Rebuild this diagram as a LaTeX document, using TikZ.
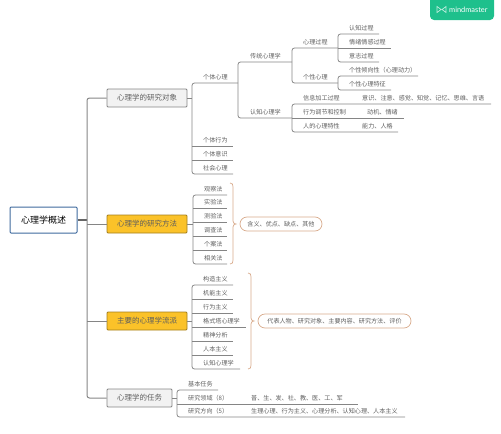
\documentclass[tikz,border=0pt]{standalone}
\usepackage{fontspec}
\setmainfont{Noto Sans CJK SC}
\newfontfamily\logofont{Lato}
\definecolor{txt}{HTML}{5E5E5E}
\definecolor{lin}{HTML}{858585}
\definecolor{brc}{HTML}{D8AB8C}
\definecolor{yel}{HTML}{FBC229}
\definecolor{logog}{HTML}{1EC08C}
\definecolor{rootb}{HTML}{3F6A9E}
\newcommand{\Lf}[6]{%name,x0,x1,y,textx,text
  \coordinate (#1-l) at (#2,#4);
  \coordinate (#1-r) at (#3,#4);
  \node[leaf,anchor=west] (#1) at (#5,#4-5.5) {#6};}
\newcommand{\Ul}[1]{\draw[conn] (#1-l) -- (#1-r);}
\newcommand{\Br}[2]{\draw[conn,rounded corners=2.5] (#1-r) -- (#1-l) -- (#2-l) -- (#2-r);}
\newcommand{\Cb}[4]{%x,top,bottom,tipy
  \draw[brc,line width=.7]
   (#1,#2) .. controls (#1+2.5,#2) and (#1+3,#2+1.5) .. (#1+3,#2+4)
   -- (#1+3,#4-3) .. controls (#1+3,#4-1) and (#1+4.5,#4) .. (#1+6,#4)
   .. controls (#1+4.5,#4) and (#1+3,#4+1) .. (#1+3,#4+3)
   -- (#1+3,#3-4) .. controls (#1+3,#3-1.5) and (#1+2.5,#3) .. (#1,#3);}
\tikzset{
  leaf/.style={inner sep=0pt,text=txt,font=\fontsize{6.1}{7}\selectfont},
  conn/.style={draw=lin,line width=.8},
  topbox/.style={draw=lin,line width=.9,rounded corners=1,inner sep=0pt,text=txt,minimum height=18,font=\fontsize{7.5}{9}\selectfont},
  graybox/.style={topbox,fill=black!5},
  yelbox/.style={topbox,fill=yel,draw=black!35!yel},
  capsule/.style={draw=brc,line width=.7,rounded corners=7,minimum height=14,inner sep=0pt,text=txt,font=\fontsize{6.1}{7}\selectfont}
}
\begin{document}
\begin{tikzpicture}[x=1pt,y=-1pt]
\useasboundingbox (0,0) rectangle (501,434);
% logo
\fill[logog,rounded corners=4] (430,-6) rectangle (494,20);
\node[inner sep=0pt,text=white,anchor=west,font=\logofont\fontsize{7.4}{8}\selectfont] (logo) at (449,9.5) {mindmaster};
\draw[white!70!logog,line width=.7] (437,6.5) -- (441,9.5) -- (437,12.5) -- cycle (446,6.5) -- (442,9.5) -- (446,12.5) -- cycle;
% root and first level
\node[draw=rootb,line width=1,rounded corners=1,fill=white,minimum width=67,minimum height=26,inner sep=0pt,font=\fontsize{9}{11}\selectfont] (root) at (43.5,220) {心理学概述};
\node[graybox,minimum width=80] (a) at (147,98) {心理学的研究对象};
\node[yelbox,minimum width=80] (b) at (147,224) {心理学的研究方法};
\node[yelbox,minimum width=80] (c) at (147,321) {主要的心理学流派};
\node[graybox,minimum width=65] (d) at (139.5,398) {心理学的任务};
\coordinate (tr) at (87,220);
\draw[conn,line width=1.1,draw=black!60] (root.east) -- (tr);
\draw[conn,line width=1,rounded corners=2.5] (a.west) -| (tr) |- (d.west);
\draw[conn] (b.west) -- (b.west -| tr);
\draw[conn] (c.west) -- (c.west -| tr);
% subject branch
\Lf{a1}{192}{238}{83}{203}{个体心理}
\Lf{a2}{192}{233}{146}{203}{个体行为}
\Lf{a3}{192}{233}{160}{203}{个体意识}
\Lf{a4}{192}{233}{174}{203}{社会心理}
\Br{a1}{a4}\Ul{a2}\Ul{a3}
\draw[conn] (a.east) -- (a.east -| a1-l);
\Lf{t1}{238}{292}{62}{250}{传统心理学}
\Lf{t2}{238}{292}{118}{250}{认知心理学}
\Br{t1}{t2}
\Lf{p1}{292}{338}{48}{303}{心理过程}
\Lf{p2}{292}{338}{83}{303}{个性心理}
\Br{p1}{p2}
\Lf{q1}{338}{379}{34}{349}{认知过程}
\Lf{q2}{338}{391}{48}{349}{情绪情感过程}
\Lf{q3}{338}{379}{62}{349}{意志过程}
\Br{q1}{q3}\Ul{q2}
\Lf{r1}{338}{418}{76}{349}{个性倾向性（心理动力）}
\Lf{r2}{338}{391}{90}{349}{个性心理特征}
\Br{r1}{r2}
\Lf{s1}{292}{491}{104}{303}{信息加工过程}
\Lf{s2}{292}{404}{118}{303}{行为调节和控制}
\Lf{s3}{292}{398}{132}{303}{人的心理特性}
\Br{s1}{s3}\Ul{s2}
\node[leaf,anchor=west] (s1t) at (362,98.5) {意识、注意、感觉、知觉、记忆、思维、言语};
\node[leaf,anchor=west] (s2t) at (367,112.5) {动机、情绪};
\node[leaf,anchor=west] (s3t) at (362,126.5) {能力、人格};
% method branch
\Lf{m1}{193}{227}{195}{204}{观察法}
\Lf{m2}{193}{227}{208}{204}{实验法}
\Lf{m3}{193}{227}{222}{204}{测验法}
\Lf{m4}{193}{227}{236}{204}{调查法}
\Lf{m5}{193}{227}{250}{204}{个案法}
\Lf{m6}{193}{227}{264}{204}{相关法}
\Br{m1}{m6}\Ul{m2}\Ul{m3}\Ul{m4}\Ul{m5}
\draw[conn] (b.east) -- (b.east -| m1-l);
\Cb{230}{183}{264}{224}
\node[capsule,minimum width=82] (mc) at (281,224) {含义、优点、缺点、其他};
% schools branch
\Lf{c1}{192}{233}{285}{203}{构造主义}
\Lf{c2}{192}{233}{299}{203}{机能主义}
\Lf{c3}{192}{233}{313}{203}{行为主义}
\Lf{c4}{192}{246}{327}{203}{格式塔心理学}
\Lf{c5}{192}{233}{341}{203}{精神分析}
\Lf{c6}{192}{233}{355}{203}{人本主义}
\Lf{c7}{192}{240}{369}{203}{认知心理学}
\Br{c1}{c7}\Ul{c2}\Ul{c3}\Ul{c4}\Ul{c5}\Ul{c6}
\draw[conn] (c.east) -- (c.east -| c1-l);
\Cb{248}{273}{369}{321}
\node[capsule,minimum width=153] (cc) at (334.5,321) {代表人物、研究对象、主要内容、研究方法、评价};
% task branch
\Lf{d1}{177}{218}{390}{188}{基本任务}
\Lf{d2}{177}{358}{404}{188}{研究领域（8）}
\Lf{d3}{177}{405}{417}{188}{研究方向（5）}
\Br{d1}{d3}\Ul{d2}
\draw[conn] (d.east) -- (d.east -| d1-l);
\node[leaf,anchor=west] (d2t) at (251,398.5) {普、生、发、社、教、医、工、军};
\node[leaf,anchor=west] (d3t) at (251,411.5) {生理心理、行为主义、心理分析、认知心理、人本主义};
\end{tikzpicture}
\end{document}
